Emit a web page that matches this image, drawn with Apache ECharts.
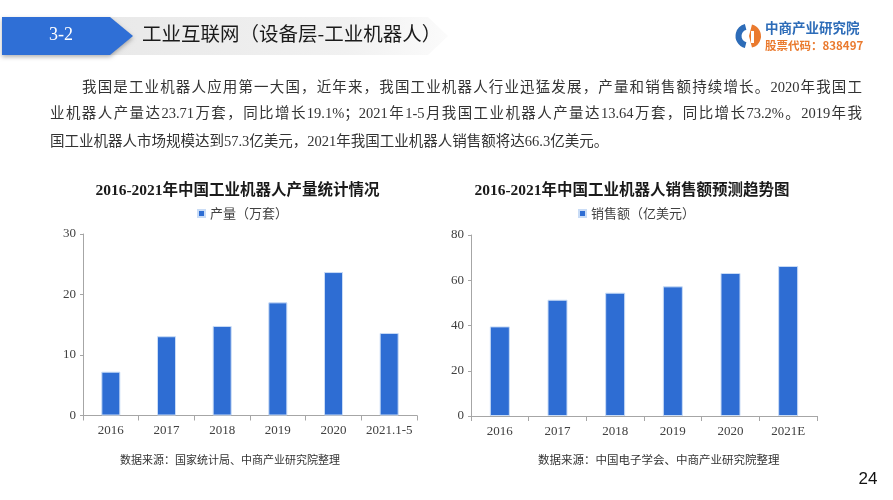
<!DOCTYPE html>
<html>
<head>
<meta charset="utf-8">
<script src="https://cdn.jsdelivr.net/npm/echarts@6/dist/echarts.min.js"></script>
<style>
  body { margin: 0; background: #fff; }
  #main { position: absolute; left: 0; top: 0; width: 893px; height: 500px; }
  .line {
    position: absolute; height: 20px; line-height: 20px;
    font-family: 'Liberation Serif', 'Noto Sans CJK SC', serif;
    font-size: 14.5px; color: #333; white-space: nowrap;
  }
  .just { text-align: justify; text-align-last: justify; white-space: normal; }
</style>
</head>
<body>
<div id="main"></div>
<div class="line just" style="left:82px;top:77px;width:780px;">我国是工业机器人应用第一大国，近年来，我国工业机器人行业迅猛发展，产量和销售额持续增长。2020年我国工</div>
<div class="line just" style="left:50px;top:103px;width:812px;">业机器人产量达23.71万套，同比增长19.1%；2021年1-5月我国工业机器人产量达13.64万套，同比增长73.2%。2019年我</div>
<div class="line" style="left:50px;top:131px;">国工业机器人市场规模达到57.3亿美元，2021年我国工业机器人销售额将达66.3亿美元。</div>
<script>
  // 产量（万套）
  var prodYears = ['2016', '2017', '2018', '2019', '2020', '2021.1-5'];
  var prodValues = [7.24, 13.1, 14.8, 18.7, 23.71, 13.64];
  // 销售额（亿美元）
  var salesYears = ['2016', '2017', '2018', '2019', '2020', '2021E'];
  var salesValues = [39.6, 51.4, 54.5, 57.3, 63.2, 66.3];

  var barColor = '#2e6dd3';
  var axisColor = '#a6a6a6';
  var serif = "'Liberation Serif', 'Noto Sans CJK SC', serif";
  var cjk = "'Noto Sans CJK SC', sans-serif";

  var myChart = echarts.init(document.getElementById('main'));

  function xAxisOf(gridIndex, data) {
    return {
      type: 'category',
      gridIndex: gridIndex,
      data: data,
      axisLine: { lineStyle: { color: axisColor } },
      axisTick: { show: true, length: 5, lineStyle: { color: axisColor } },
      axisLabel: { interval: 0, color: '#404040', fontFamily: serif, fontSize: 13, margin: 9 }
    };
  }
  function yAxisOf(gridIndex, max, interval) {
    return {
      type: 'value',
      gridIndex: gridIndex,
      min: 0, max: max, interval: interval,
      axisLine: { show: true, lineStyle: { color: axisColor } },
      axisTick: { show: true, length: 3, lineStyle: { color: axisColor } },
      axisLabel: { color: '#404040', fontFamily: serif, fontSize: 13, margin: 7 },
      splitLine: { show: false }
    };
  }

  var option = {
    animation: false,
    grid: [
      { left: 83, top: 234, width: 334, height: 181.5 },
      { left: 471, top: 235, width: 346, height: 181 }
    ],
    legend: [
      {
        data: ['产量（万套）'], left: 197, top: 207, padding: 0,
        icon: 'rect', itemWidth: 7, itemHeight: 7, itemGap: 5,
        textStyle: { fontFamily: cjk, fontSize: 13, color: '#404040' }
      },
      {
        data: ['销售额（亿美元）'], left: 578, top: 207, padding: 0,
        icon: 'rect', itemWidth: 7, itemHeight: 7, itemGap: 5,
        textStyle: { fontFamily: cjk, fontSize: 13, color: '#404040' }
      }
    ],
    xAxis: [xAxisOf(0, prodYears), xAxisOf(1, salesYears)],
    yAxis: [yAxisOf(0, 30, 10), yAxisOf(1, 80, 20)],
    series: [
      {
        name: '产量（万套）', type: 'bar', xAxisIndex: 0, yAxisIndex: 0,
        barWidth: 19, data: prodValues,
        itemStyle: { color: barColor, borderColor: '#c9dcf6', borderWidth: 1 }
      },
      {
        name: '销售额（亿美元）', type: 'bar', xAxisIndex: 1, yAxisIndex: 1,
        barWidth: 20, data: salesValues,
        itemStyle: { color: barColor, borderColor: '#c9dcf6', borderWidth: 1 }
      }
    ],
    graphic: [
      // 标题栏
      {
        type: 'polygon', z: 1,
        shape: { points: [[110, 17], [428, 17], [448, 36], [428, 55], [110, 55]] },
        style: {
          fill: new echarts.graphic.LinearGradient(0, 0, 1, 0, [
            { offset: 0, color: '#e9e9e9' },
            { offset: 0.7, color: '#f1f1f1' },
            { offset: 1, color: '#fbfbfb' }
          ])
        }
      },
      {
        type: 'polygon', z: 2,
        shape: { points: [[2, 17], [110, 17], [133, 36], [110, 55], [2, 55]] },
        style: { fill: '#2f6fd6', shadowBlur: 4, shadowColor: 'rgba(0,0,0,0.3)', shadowOffsetY: 2 }
      },
      {
        type: 'text', z: 3, left: 49, top: 26,
        style: { text: '3-2', fill: '#fff', font: '18px ' + serif }
      },
      {
        type: 'text', z: 3, left: 142, top: 24,
        style: { text: '工业互联网（设备层-工业机器人）', fill: '#1a1a1a', font: '19.5px ' + cjk }
      },
      // logo
      {
        type: 'sector', z: 3,
        shape: { cx: 748, cy: 36, r: 12.5, r0: 6.5, startAngle: Math.PI * 0.58, endAngle: Math.PI * 1.42 },
        style: { fill: '#2d6cb8' }
      },
      {
        type: 'sector', z: 3,
        shape: { cx: 749, cy: 36, r: 12, r0: 0, startAngle: -Math.PI * 0.42, endAngle: Math.PI * 0.42 },
        style: { fill: '#ea7a2e' }
      },
      {
        type: 'rect', z: 4,
        shape: { x: 751, y: 31, width: 3, height: 12 },
        style: { fill: '#fff' }
      },
      {
        type: 'text', z: 3, left: 765, top: 21,
        style: { text: '中商产业研究院', fill: '#2d6cb8', font: 'bold 13.5px ' + cjk }
      },
      {
        type: 'text', z: 3, left: 765, top: 40,
        style: { text: '股票代码：838497', fill: '#ea7a2e', font: 'bold 11.5px ' + cjk }
      },
      // 图表标题
      {
        type: 'text', x: 237.5, y: 191,
        style: {
          text: '2016-2021年中国工业机器人产量统计情况', fill: '#1a1a1a',
          font: 'bold 15.5px ' + serif, textAlign: 'center', textVerticalAlign: 'middle'
        }
      },
      {
        type: 'text', x: 632, y: 191,
        style: {
          text: '2016-2021年中国工业机器人销售额预测趋势图', fill: '#1a1a1a',
          font: 'bold 15.5px ' + serif, textAlign: 'center', textVerticalAlign: 'middle'
        }
      },
      // 数据来源
      {
        type: 'text', x: 120, y: 460,
        style: {
          text: '数据来源：国家统计局、中商产业研究院整理', fill: '#333',
          font: '11px ' + cjk, textVerticalAlign: 'middle'
        }
      },
      {
        type: 'text', x: 538, y: 460,
        style: {
          text: '数据来源：中国电子学会、中商产业研究院整理', fill: '#333',
          font: '11.5px ' + cjk, textVerticalAlign: 'middle'
        }
      },
      // 页码
      {
        type: 'text', x: 868, y: 479,
        style: {
          text: '24', fill: '#111', font: '17px "Liberation Sans", sans-serif',
          textAlign: 'center', textVerticalAlign: 'middle'
        }
      }
    ]
  };
  myChart.setOption(option);
</script>
</body>
</html>
